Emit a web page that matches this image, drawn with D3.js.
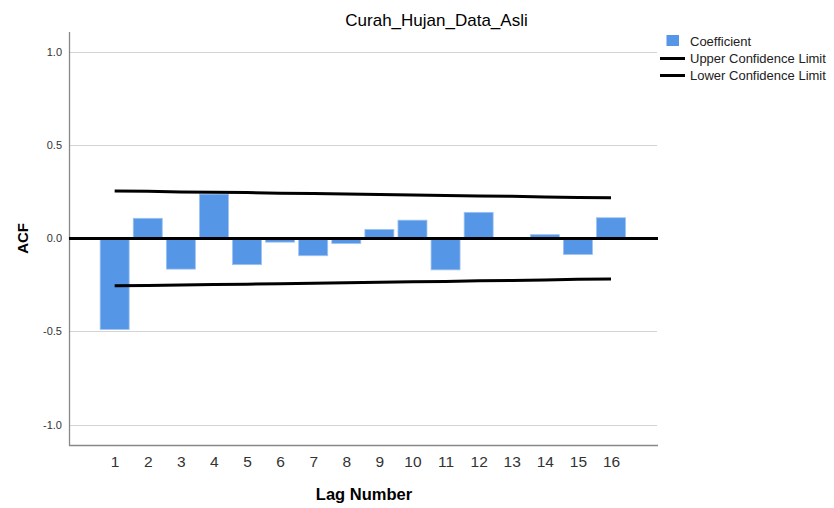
<!DOCTYPE html>
<html>
<head>
<meta charset="utf-8">
<script src="https://cdn.jsdelivr.net/npm/d3@7/dist/d3.min.js"></script>
<style>
  html, body { margin: 0; padding: 0; background: #fff; }
  svg { display: block; font-family: "Liberation Sans", Arial, sans-serif; }
</style>
</head>
<body>
<svg id="chart" width="834" height="508"></svg>
<script>
// Autocorrelation of the rainfall series, lags 1..16
const lags = [1, 2, 3, 4, 5, 6, 7, 8, 9, 10, 11, 12, 13, 14, 15, 16];
const coefficient = [-0.489, 0.108, -0.165, 0.238, -0.141, -0.020, -0.093, -0.027,
                     0.048, 0.098, -0.169, 0.140, 0.001, 0.020, -0.086, 0.111];
const upperLimit = [0.255, 0.253, 0.250, 0.248, 0.246, 0.243, 0.241, 0.238,
                    0.236, 0.233, 0.231, 0.228, 0.226, 0.223, 0.220, 0.218];
const lowerLimit = [-0.255, -0.253, -0.250, -0.248, -0.246, -0.243, -0.241, -0.238,
                    -0.236, -0.233, -0.231, -0.228, -0.226, -0.223, -0.220, -0.218];
const yTicks = [1.0, 0.5, 0.0, -0.5, -1.0];
const legendItems = ["Coefficient", "Upper Confidence Limit", "Lower Confidence Limit"];

const svg = d3.select("#chart");
const plot = { left: 69, right: 658, top: 32, bottom: 445 };

const x = d3.scaleLinear().domain([-0.38, 17.42]).range([plot.left, plot.right]);
const y = d3.scaleLinear().domain([-1.11, 1.109]).range([plot.bottom, plot.top]);
const step = x(2) - x(1);
const barW = step * 0.876;

// Horizontal gridlines
svg.append("g").selectAll("line").data(yTicks).join("line")
  .attr("x1", plot.left).attr("x2", plot.right - 1)
  .attr("y1", d => Math.round(y(d)) + 0.5).attr("y2", d => Math.round(y(d)) + 0.5)
  .attr("stroke", "#d4d4d4").attr("stroke-width", 1.2);

// Y axis (plain hyphen for negatives)
const yAxis = d3.axisLeft(y).tickValues(yTicks).tickFormat(d => d.toFixed(1)).tickSize(0).tickPadding(7);
const gy = svg.append("g").attr("transform", `translate(${plot.left},0)`).call(yAxis);
gy.select(".domain").remove();
gy.selectAll("text").attr("font-size", 11).attr("fill", "#333")
  .attr("font-family", "Liberation Sans, Arial, sans-serif");

// X axis labels
const xAxis = d3.axisBottom(x).tickValues(lags).tickFormat(d3.format("d")).tickSize(0).tickPadding(11);
const gx = svg.append("g").attr("transform", `translate(0,${plot.bottom})`).call(xAxis);
gx.select(".domain").remove();
gx.selectAll("text").attr("font-size", 15.5).attr("fill", "#333")
  .attr("font-family", "Liberation Sans, Arial, sans-serif");

// Axis lines
svg.append("line").attr("x1", plot.left + 0.5).attr("x2", plot.left + 0.5)
  .attr("y1", plot.top).attr("y2", plot.bottom + 0.5)
  .attr("stroke", "#888").attr("stroke-width", 1.3);
svg.append("line").attr("x1", plot.left).attr("x2", plot.right)
  .attr("y1", plot.bottom + 0.5).attr("y2", plot.bottom + 0.5)
  .attr("stroke", "#888").attr("stroke-width", 1.3);

// Coefficient bars
svg.append("g").selectAll("rect").data(lags).join("rect")
  .attr("x", (d) => x(d) - barW / 2)
  .attr("width", barW)
  .attr("y", (d, i) => y(Math.max(0, coefficient[i])))
  .attr("height", (d, i) => Math.abs(y(coefficient[i]) - y(0)))
  .attr("fill", "#5596e6")
  .attr("stroke", "#9cc2f0").attr("stroke-width", 0.8);

// Zero reference line
svg.append("line").attr("x1", plot.left).attr("x2", plot.right)
  .attr("y1", y(0)).attr("y2", y(0))
  .attr("stroke", "#000").attr("stroke-width", 3);

// Confidence limits
const limitLine = d3.line().x((d, i) => x(lags[i])).y(d => y(d));
[upperLimit, lowerLimit].forEach(series => {
  svg.append("path").datum(series).attr("d", limitLine)
    .attr("fill", "none").attr("stroke", "#000").attr("stroke-width", 3);
});

// Title
svg.append("text").attr("x", 436.5).attr("y", 26).attr("text-anchor", "middle")
  .attr("font-size", 17).attr("fill", "#000").text("Curah_Hujan_Data_Asli");

// Axis titles
svg.append("text").attr("transform", `translate(28,${y(0)}) rotate(-90)`)
  .attr("text-anchor", "middle").attr("font-size", 15).attr("font-weight", "bold")
  .attr("fill", "#000").text("ACF");
svg.append("text").attr("x", 364).attr("y", 500).attr("text-anchor", "middle")
  .attr("font-size", 16.5).attr("font-weight", "bold").attr("fill", "#000").text("Lag Number");

// Legend
const legend = svg.append("g");
const legendY = [46, 63, 80];
legend.append("rect").attr("x", 666.5).attr("y", 35).attr("width", 12.5).attr("height", 11)
  .attr("fill", "#5596e6");
[1, 2].forEach(i => {
  legend.append("line").attr("x1", 660).attr("x2", 685)
    .attr("y1", legendY[i] - 4.5).attr("y2", legendY[i] - 4.5)
    .attr("stroke", "#000").attr("stroke-width", 3);
});
legend.selectAll("text").data(legendItems).join("text")
  .attr("x", 690).attr("y", (d, i) => legendY[i])
  .attr("font-size", 13).attr("fill", "#222").text(d => d);
</script>
</body>
</html>
